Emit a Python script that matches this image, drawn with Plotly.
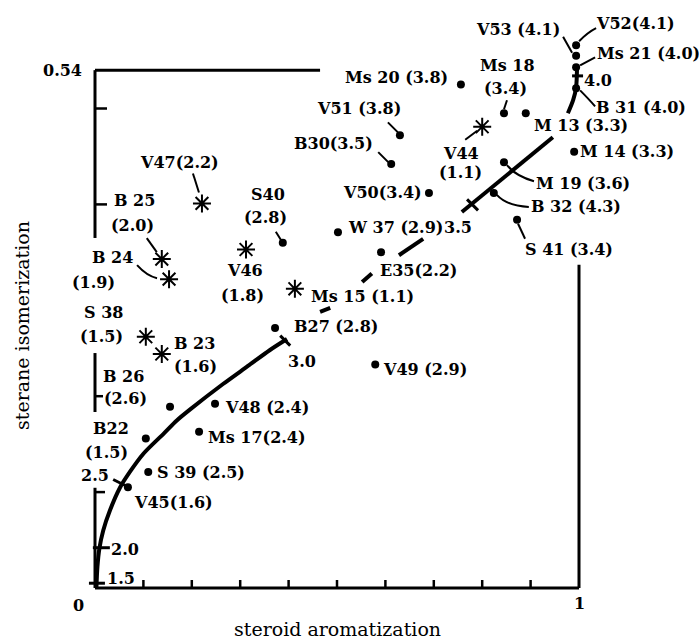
import plotly.graph_objects as go

# ---------------------------------------------------------------- data
# samples plotted as filled dots: name, bracketed value, aromatization, isomerization
dot_names = ["V52", "V53", "Ms 21", "B 31", "Ms 20", "Ms 18", "M 13", "V51", "B30",
             "M 14", "M 19", "V50", "B 32", "S 41", "W 37", "E35", "S40", "B27",
             "V49", "V48", "B 26", "Ms 17", "B22", "S 39", "V45"]
dot_values = [4.1, 4.1, 4.0, 4.0, 3.8, 3.4, 3.3, 3.8, 3.5,
              3.3, 3.6, 3.4, 4.3, 3.4, 2.9, 2.2, 2.8, 2.8,
              2.9, 2.4, 2.6, 2.4, 1.5, 2.5, 1.6]
dot_x = [0.994, 0.994, 0.994, 0.994, 0.756, 0.845, 0.890, 0.630, 0.612,
         0.990, 0.845, 0.690, 0.824, 0.872, 0.502, 0.591, 0.388, 0.372,
         0.579, 0.248, 0.155, 0.215, 0.105, 0.110, 0.068]
dot_y = [0.566, 0.555, 0.543, 0.521, 0.525, 0.495, 0.495, 0.472, 0.442,
         0.455, 0.444, 0.412, 0.412, 0.384, 0.371, 0.350, 0.360, 0.271,
         0.233, 0.192, 0.189, 0.163, 0.156, 0.121, 0.105]

# samples plotted as asterisks
star_names = ["V47", "B 25", "B 24", "V46", "S 38", "B 23", "Ms 15", "V44"]
star_values = [2.2, 2.0, 1.9, 1.8, 1.5, 1.6, 1.1, 1.1]
star_x = [0.221, 0.138, 0.153, 0.312, 0.105, 0.138, 0.413, 0.800]
star_y = [0.401, 0.343, 0.322, 0.353, 0.262, 0.244, 0.312, 0.481]

# model trajectory (gaps mark the broken stretches of the line)
curve_x = [0.003, 0.005, 0.009, 0.017, 0.031, 0.052, 0.072, 0.100, 0.142, 0.169,
           0.196, 0.2645, 0.316, 0.3616, 0.3967, None,
           0.465, 0.486, None,
           0.552, 0.572, None,
           0.628, 0.678, None,
           0.758, 0.946, None,
           0.977, 0.988, 0.994, 0.996]
curve_y = [0.001, 0.022, 0.041, 0.060, 0.081, 0.105, 0.121, 0.140, 0.161, 0.1747,
           0.186, 0.2127, 0.2315, 0.2482, 0.2596, None,
           0.288, 0.292, None,
           0.319, 0.328, None,
           0.347, 0.364, None,
           0.392, 0.470, None,
           0.495, 0.509, 0.522, 0.545]

# graduations along the trajectory
mark_labels = ["1.5", "2.0", "2.5", "3.0", "3.5", "4.0"]
mark_x = [0.004, 0.008, 0.052, 0.393, 0.779, 0.996]
mark_y = [0.005, 0.042, 0.110, 0.259, 0.399, 0.534]

x_ticks = [0.1, 0.2, 0.3, 0.4, 0.5, 0.6, 0.7, 0.8, 0.9]
y_ticks = [0.5, 0.4, 0.2, 0.1]

# ---------------------------------------------------------------- label text
def one_line(name, value, sep=" "):
    return f"{name}{sep}({value:.1f})"

def two_line(name, value):
    return f"{name}\n({value:.1f})"

tight = {"V52", "B30", "V50", "E35", "Ms 17", "V45", "V47"}
stacked = {"Ms 18", "S40", "B 26", "B22", "B 25", "B 24", "V46", "S 38", "B 23", "V44"}

def label_for(name, value):
    if name in stacked:
        return two_line(name, value)
    return one_line(name, value, "" if name in tight else " ")

# ---------------------------------------------------------------- label layout
# per text line: (anchor, dx, dy) in screen pixels from the marker (dy down)
label_layout = {
    "V52": [("left", 19, -22)],
    "V53": [("right", -15, -26)],
    "Ms 21": [("left", 20, -14)],
    "B 31": [("left", 19, 19)],
    "Ms 20": [("right", -12, -7)],
    "Ms 18": [("center", 4, -48), ("center", 2, -25)],
    "M 13": [("left", 7, 12)],
    "V51": [("right", 2, -27)],
    "B30": [("right", -17, -21)],
    "M 14": [("left", 5, 0)],
    "M 19": [("left", 31, 21)],
    "V50": [("right", -6, 0)],
    "B 32": [("left", 36, 14)],
    "S 41": [("left", 7, 30)],
    "W 37": [("left", 9, -5)],
    "E35": [("left", -2, 18)],
    "S40": [("center", -15, -48), ("center", -17, -25)],
    "B27": [("left", 18, -2)],
    "V49": [("left", 7, 5)],
    "V48": [("left", 9, 4)],
    "B 26": [("left", -68, -30), ("left", -67, -8)],
    "Ms 17": [("left", 8, 6)],
    "B22": [("center", -35, -10), ("center", -39, 14)],
    "S 39": [("left", 8, 1)],
    "V45": [("left", 5, 15)],
    "V47": [("center", -22, -41)],
    "B 25": [("center", -27, -59), ("center", -29, -34)],
    "B 24": [("center", -57, -22), ("center", -76, 3)],
    "V46": [("center", -1, 21), ("center", -4, 46)],
    "S 38": [("center", -42, -24), ("center", -44, 0)],
    "B 23": [("left", 11, -11), ("left", 11, 12)],
    "Ms 15": [("left", 15, 8)],
    "V44": [("center", -21, 27), ("center", -22, 46)],
}

# leader lines, screen-pixel offsets from the marker (3 points -> curved)
leaders = {
    "V52": [(3, -4), (12, -13), (20, -17)],
    "V53": [(-13, -19), (-4, -3)],
    "Ms 21": [(4, -2), (19, -10)],
    "B 31": [(4, 2), (13, 11), (19, 18)],
    "Ms 18": [(3, -13), (0, -4)],
    "V51": [(-12, -13), (-2, -3)],
    "B30": [(-13, -12), (-3, -2)],
    "M 19": [(3, 3), (12, 14), (30, 19)],
    "B 32": [(3, 2), (13, 13), (35, 14)],
    "S 41": [(1, 4), (8, 19)],
    "S40": [(-7, -11), (-2, -3)],
    "V47": [(-9, -30), (-3, -11)],
    "B 25": [(-15, -21), (-5, -7)],
    "B 24": [(-32, -14), (-22, -3), (-12, -1)],
    "V44": [(-17, 13), (-5, 4)],
}

# graduation ticks on the trajectory and their labels
mark_ticks = [((-8, 0), (8, 0)), ((-6, 0), (11, 0)), ((-7, -3), (7, 4)),
              ((-5, -4), (5, 6)), ((-5, -6), (6, 5)), ((-5, 0), (6, 0))]
mark_text_pos = [("left", 9, -5), ("left", 11, 2), ("right", -10, -7),
                 ("left", 2, 22), ("left", -29, 22), ("left", 6, 5)]

# ---------------------------------------------------------------- styling
W, H = 700, 639
X0_PX, X_SCALE = 95, 484          # pixel of x=0, pixels per unit
Y0_PX, Y_SCALE = 588, 959         # pixel of y=0, pixels per unit
SERIF = "DejaVu Serif"
LABEL_FONT = dict(family=SERIF, size=16, color="black", weight="bold")
TITLE_FONT = dict(family=SERIF, size=19, color="black")
INK = "black"

fig = go.Figure()

# trajectory
fig.add_trace(go.Scatter(x=curve_x, y=curve_y, mode="lines",
                         line=dict(color=INK, width=4, shape="spline", smoothing=0.8),
                         connectgaps=False, hoverinfo="skip", showlegend=False))
# dots
fig.add_trace(go.Scatter(x=dot_x, y=dot_y, mode="markers",
                         marker=dict(symbol="circle", size=8, color=INK),
                         text=[label_for(n, v) for n, v in zip(dot_names, dot_values)],
                         hoverinfo="text", showlegend=False))
# asterisks
fig.add_trace(go.Scatter(x=star_x, y=star_y, mode="markers",
                         marker=dict(symbol="asterisk-open", size=15, color=INK,
                                     line=dict(color=INK, width=2)),
                         text=[label_for(n, v) for n, v in zip(star_names, star_values)],
                         hoverinfo="text", showlegend=False))

shapes = []
annotations = []


def pixel_path(pts):
    coords = [f"{dx},{-dy}" for dx, dy in pts]
    if len(pts) == 3:
        return f"M {coords[0]} Q {coords[1]} {coords[2]}"
    return "M " + " L ".join(coords)


def add_label(x, y, text, layout):
    for line, (anchor, dx, dy) in zip(text.split("\n"), layout):
        annotations.append(dict(x=x, y=y, xref="x", yref="y", text=line,
                                showarrow=False, xanchor=anchor, yanchor="middle",
                                xshift=dx, yshift=-dy, borderpad=0, font=LABEL_FONT))


for names, values, xs, ys in ((dot_names, dot_values, dot_x, dot_y),
                              (star_names, star_values, star_x, star_y)):
    for n, v, x, y in zip(names, values, xs, ys):
        add_label(x, y, label_for(n, v), label_layout[n])
        if n in leaders:
            shapes.append(dict(type="path", xref="x", yref="y",
                               xsizemode="pixel", ysizemode="pixel",
                               xanchor=x, yanchor=y, path=pixel_path(leaders[n]),
                               line=dict(color=INK, width=2)))

# graduations on the trajectory
for lab, x, y, (p0, p1), (anchor, dx, dy) in zip(mark_labels, mark_x, mark_y,
                                                 mark_ticks, mark_text_pos):
    shapes.append(dict(type="line", xref="x", yref="y",
                       xsizemode="pixel", ysizemode="pixel", xanchor=x, yanchor=y,
                       x0=p0[0], y0=-p0[1], x1=p1[0], y1=-p1[1],
                       line=dict(color=INK, width=3)))
    annotations.append(dict(x=x, y=y, xref="x", yref="y", text=lab, showarrow=False,
                            xanchor=anchor, yanchor="middle", xshift=dx, yshift=-dy,
                            borderpad=0, font=LABEL_FONT))

# frame: broken left axis, short top rule, bottom axis, partial right axis
frame = [
    (0, 0.54, 0, 0.365), (0, 0.245, 0, 0.1835), (0, 0.1045, 0, 0),
    (0, 0.54, 0.465, 0.54), (0, 0, 1, 0), (1, 0, 1, 0.337),
]
for x0, y0, x1, y1 in frame:
    shapes.append(dict(type="line", xref="x", yref="y", x0=x0, y0=y0, x1=x1, y1=y1,
                       line=dict(color=INK, width=3)))

for yv, length in zip(y_ticks, [12, 12, 8, 10]):
    shapes.append(dict(type="line", xref="x", yref="y", xsizemode="pixel",
                       xanchor=0, x0=0, x1=length, y0=yv, y1=yv,
                       line=dict(color=INK, width=2.5)))
for xv in x_ticks:
    shapes.append(dict(type="line", xref="x", yref="y", ysizemode="pixel",
                       yanchor=0, y0=0, y1=8, x0=xv, x1=xv,
                       line=dict(color=INK, width=2.5)))

# axis numbers
annotations += [
    dict(x=0, y=0.54, xref="x", yref="y", text="0.54", showarrow=False,
         xanchor="right", yanchor="middle", xshift=-12, borderpad=0, font=LABEL_FONT),
    dict(x=0, y=0, xref="x", yref="y", text="0", showarrow=False,
         xanchor="center", yanchor="middle", xshift=-17, yshift=-17, borderpad=0,
         font=LABEL_FONT),
    dict(x=1, y=0, xref="x", yref="y", text="1", showarrow=False,
         xanchor="center", yanchor="middle", yshift=-15, borderpad=0, font=LABEL_FONT),
    dict(x=0.5, y=0, xref="x", yref="y", text="steroid aromatization", showarrow=False,
         xanchor="center", yanchor="middle", yshift=-41, font=TITLE_FONT),
    dict(x=22 / W, y=1 - 326 / H, xref="paper", yref="paper",
         text="sterane isomerization", showarrow=False, textangle=-90,
         xanchor="center", yanchor="middle", font=TITLE_FONT),
]

fig.update_layout(
    width=W, height=H,
    margin=dict(l=0, r=0, t=0, b=0),
    paper_bgcolor="white", plot_bgcolor="white",
    xaxis=dict(range=[-X0_PX / X_SCALE, (W - X0_PX) / X_SCALE], visible=False,
               fixedrange=True),
    yaxis=dict(range=[-(H - Y0_PX) / Y_SCALE, Y0_PX / Y_SCALE], visible=False,
               fixedrange=True),
    shapes=shapes,
    annotations=annotations,
    showlegend=False,
)

fig.write_html("out.html")
